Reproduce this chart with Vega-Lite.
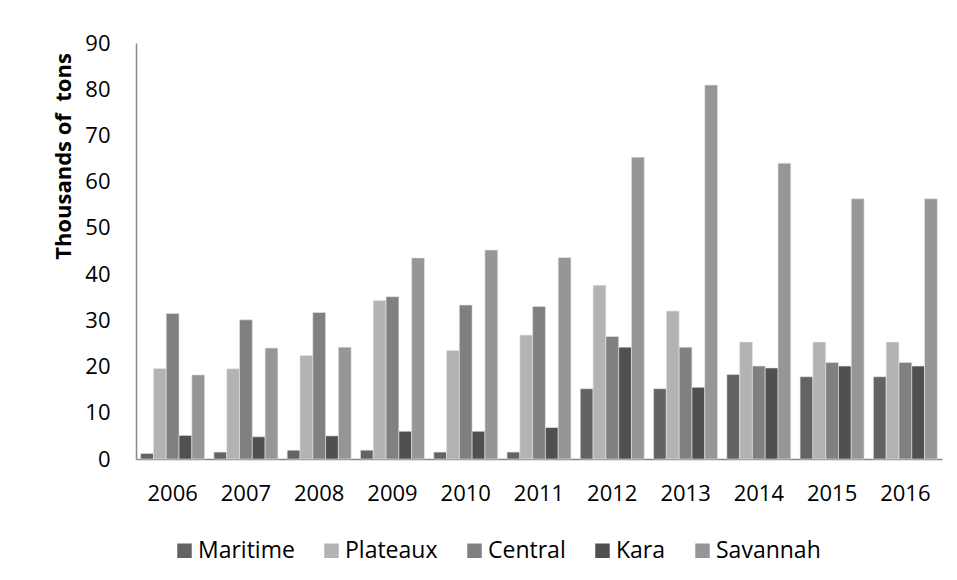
{
  "$schema": "https://vega.github.io/schema/vega-lite/v6.json",
  "width": 806,
  "height": 416,
  "autosize": {"type": "none"},
  "padding": {"left": 136, "top": 43, "right": 15, "bottom": 121},
  "background": "white",
  "config": {
    "view": {"stroke": null},
    "font": "Open Sans",
    "axis": {"domainColor": "#888888", "domainWidth": 1.5, "ticks": false, "grid": false, "labelColor": "#000000", "labelFont": "Open Sans", "labelFontSize": 22}
  },
  "data": {
    "values": [
      {"year": "2006", "region": "Maritime", "value": 1.2},
      {"year": "2006", "region": "Plateaux", "value": 19.6},
      {"year": "2006", "region": "Central", "value": 31.5},
      {"year": "2006", "region": "Kara", "value": 5.1},
      {"year": "2006", "region": "Savannah", "value": 18.2},
      {"year": "2007", "region": "Maritime", "value": 1.5},
      {"year": "2007", "region": "Plateaux", "value": 19.5},
      {"year": "2007", "region": "Central", "value": 30.1},
      {"year": "2007", "region": "Kara", "value": 4.8},
      {"year": "2007", "region": "Savannah", "value": 24.0},
      {"year": "2008", "region": "Maritime", "value": 1.9},
      {"year": "2008", "region": "Plateaux", "value": 22.4},
      {"year": "2008", "region": "Central", "value": 31.7},
      {"year": "2008", "region": "Kara", "value": 5.0},
      {"year": "2008", "region": "Savannah", "value": 24.2},
      {"year": "2009", "region": "Maritime", "value": 1.9},
      {"year": "2009", "region": "Plateaux", "value": 34.3},
      {"year": "2009", "region": "Central", "value": 35.1},
      {"year": "2009", "region": "Kara", "value": 6.0},
      {"year": "2009", "region": "Savannah", "value": 43.5},
      {"year": "2010", "region": "Maritime", "value": 1.5},
      {"year": "2010", "region": "Plateaux", "value": 23.5},
      {"year": "2010", "region": "Central", "value": 33.3},
      {"year": "2010", "region": "Kara", "value": 6.0},
      {"year": "2010", "region": "Savannah", "value": 45.2},
      {"year": "2011", "region": "Maritime", "value": 1.5},
      {"year": "2011", "region": "Plateaux", "value": 26.8},
      {"year": "2011", "region": "Central", "value": 33.0},
      {"year": "2011", "region": "Kara", "value": 6.8},
      {"year": "2011", "region": "Savannah", "value": 43.6},
      {"year": "2012", "region": "Maritime", "value": 15.2},
      {"year": "2012", "region": "Plateaux", "value": 37.6},
      {"year": "2012", "region": "Central", "value": 26.5},
      {"year": "2012", "region": "Kara", "value": 24.2},
      {"year": "2012", "region": "Savannah", "value": 65.3},
      {"year": "2013", "region": "Maritime", "value": 15.2},
      {"year": "2013", "region": "Plateaux", "value": 32.0},
      {"year": "2013", "region": "Central", "value": 24.2},
      {"year": "2013", "region": "Kara", "value": 15.5},
      {"year": "2013", "region": "Savannah", "value": 80.9},
      {"year": "2014", "region": "Maritime", "value": 18.3},
      {"year": "2014", "region": "Plateaux", "value": 25.3},
      {"year": "2014", "region": "Central", "value": 20.1},
      {"year": "2014", "region": "Kara", "value": 19.7},
      {"year": "2014", "region": "Savannah", "value": 64.0},
      {"year": "2015", "region": "Maritime", "value": 17.8},
      {"year": "2015", "region": "Plateaux", "value": 25.3},
      {"year": "2015", "region": "Central", "value": 20.9},
      {"year": "2015", "region": "Kara", "value": 20.1},
      {"year": "2015", "region": "Savannah", "value": 56.3},
      {"year": "2016", "region": "Maritime", "value": 17.8},
      {"year": "2016", "region": "Plateaux", "value": 25.3},
      {"year": "2016", "region": "Central", "value": 20.9},
      {"year": "2016", "region": "Kara", "value": 20.1},
      {"year": "2016", "region": "Savannah", "value": 56.3}
    ]
  },
  "mark": {"type": "bar", "stroke": "#e6e6e6", "strokeWidth": 0.6},
  "encoding": {
    "x": {
      "field": "year",
      "type": "nominal",
      "scale": {"paddingInner": 0.127, "paddingOuter": 0.0635},
      "axis": {"title": null, "labelAngle": 0, "labelPadding": 34, "labelBaseline": "middle"}
    },
    "xOffset": {
      "field": "region",
      "type": "nominal",
      "sort": ["Maritime", "Plateaux", "Central", "Kara", "Savannah"],
      "scale": {"paddingInner": 0, "paddingOuter": 0}
    },
    "y": {
      "field": "value",
      "type": "quantitative",
      "scale": {"domain": [0, 90], "nice": false},
      "axis": {
        "title": "Thousands of\u00a0 tons",
        "values": [0, 10, 20, 30, 40, 50, 60, 70, 80, 90],
        "labelPadding": 26,
        "titleFont": "Open Sans",
        "titleFontSize": 22,
        "titleFontWeight": "bold",
        "titleColor": "#000000",
        "titleAngle": -90,
        "titleAlign": "center",
        "titleBaseline": "alphabetic",
        "titleX": -66,
        "titleY": 113
      }
    },
    "color": {
      "field": "region",
      "type": "nominal",
      "sort": ["Maritime", "Plateaux", "Central", "Kara", "Savannah"],
      "scale": {
        "domain": ["Maritime", "Plateaux", "Central", "Kara", "Savannah"],
        "range": ["#636363", "#b3b3b3", "#808080", "#505050", "#969696"]
      },
      "legend": {
        "title": null,
        "orient": "none",
        "direction": "horizontal",
        "legendX": 37,
        "legendY": 496,
        "symbolType": "square",
        "symbolSize": 210,
        "symbolStrokeWidth": 0,
        "labelFont": "Open Sans",
        "labelFontSize": 23,
        "labelColor": "#000000",
        "labelOffset": 2,
        "columnPadding": 25,
        "labelLimit": 300
      }
    }
  }
}
